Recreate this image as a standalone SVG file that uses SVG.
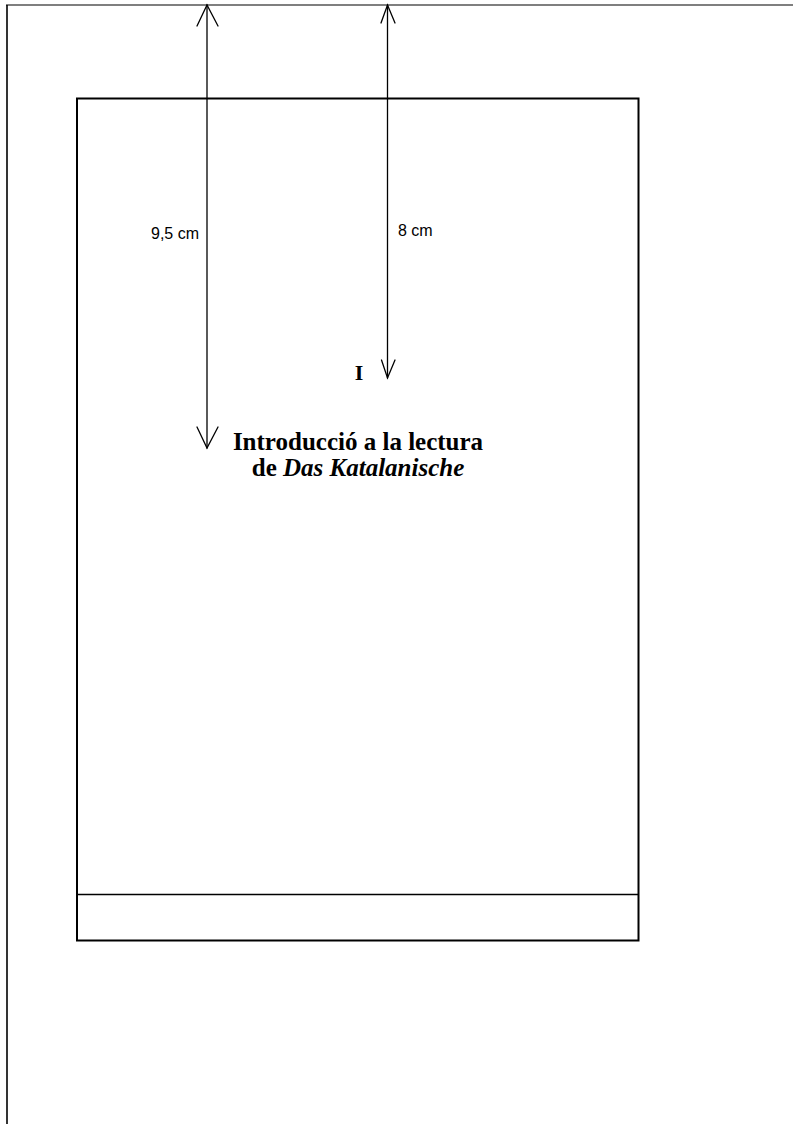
<svg xmlns="http://www.w3.org/2000/svg" width="793" height="1124" viewBox="0 0 793 1124">
  <style>
    .frame { fill: none; stroke: #000; stroke-width: 2; }
    .conn { fill: none; stroke: #000; stroke-width: 1.3; stroke-linecap: round; stroke-linejoin: miter; }
    .dim { font-family: "Liberation Sans", Arial, sans-serif; font-size: 16px; fill: #000; }
    .title { font-family: "Liberation Serif", "Times New Roman", serif; font-weight: bold; fill: #000; text-anchor: middle; }
  </style>
  <rect x="0" y="0" width="793" height="1124" fill="#fff"/>
  <g id="sheet">
    <line x1="6" y1="5" x2="793" y2="5" stroke="#555" stroke-width="1.6"/>
    <line x1="7" y1="5" x2="7" y2="1124" stroke="#000" stroke-width="1.6"/>
  </g>
  <g id="page">
    <rect class="frame" x="77" y="98.5" width="561.5" height="842"/>
    <line x1="77" y1="894.5" x2="638.5" y2="894.5" stroke="#000" stroke-width="1.6"/>
  </g>
  <g id="connectors">
    <line class="conn" x1="207" y1="5" x2="207" y2="448"/>
    <polyline class="conn" points="197,26 207,5 218,26"/>
    <polyline class="conn" points="197,427 207,448 218,427"/>
    <line class="conn" x1="387.5" y1="5" x2="387.5" y2="378"/>
    <polyline class="conn" points="381,23 387.5,5 395,23"/>
    <polyline class="conn" points="381.5,360 387.5,378 395,360"/>
  </g>
  <g id="label-95">
    <text class="dim" x="151" y="239">9,5 cm</text>
  </g>
  <g id="label-8">
    <text class="dim" x="398" y="236">8 cm</text>
  </g>
  <g id="chapter-number">
    <text class="title" x="359" y="380" font-size="22">I</text>
  </g>
  <g id="chapter-title">
    <text class="title" x="358" y="450" font-size="25">Introducció a la lectura</text>
    <text class="title" x="358" y="476" font-size="25">de <tspan font-style="italic">Das Katalanische</tspan></text>
  </g>
</svg>
